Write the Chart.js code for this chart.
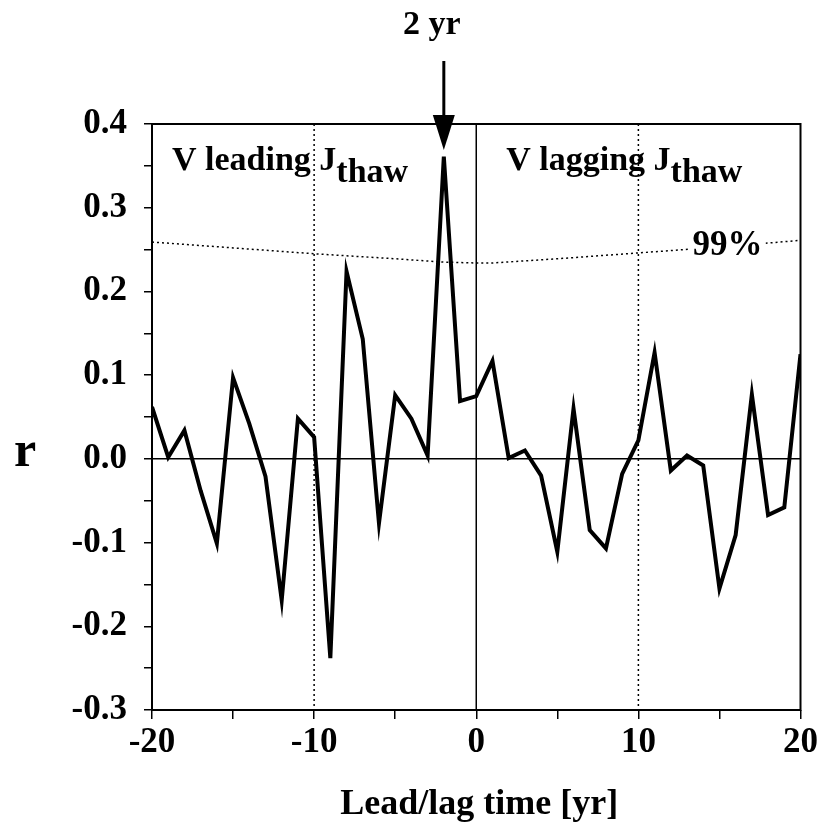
<!DOCTYPE html>
<html>
<head>
<meta charset="utf-8">
<script src="https://cdn.jsdelivr.net/npm/chart.js@4.4.1/dist/chart.umd.min.js"></script>
<style>
  html, body { margin: 0; padding: 0; background: #fff; }
  #wrap { width: 821px; height: 825px; position: relative; }
</style>
</head>
<body>
<div id="wrap"><canvas id="chartLag"></canvas></div>
<script>
// ── Lead/lag correlation of V vs J_thaw ──

// lag [yr] and correlation r
const lags = [-20, -19, -18, -17, -16, -15, -14, -13, -12, -11, -10, -9, -8, -7, -6, -5, -4, -3, -2, -1,
              0, 1, 2, 3, 4, 5, 6, 7, 8, 9, 10, 11, 12, 13, 14, 15, 16, 17, 18, 19, 20];
const corr = [0.062, 0.002, 0.034, -0.038, -0.101, 0.097, 0.042, -0.021, -0.169, 0.048,
              0.026, -0.238, 0.224, 0.143, -0.077, 0.076, 0.048, 0.004, 0.361, 0.069,
              0.075, 0.117, 0.001, 0.010, -0.020, -0.111, 0.060, -0.085, -0.107, -0.018,
              0.022, 0.127, -0.014, 0.004, -0.008, -0.155, -0.091, 0.077, -0.067, -0.058, 0.125];

// 99% significance level
const sigLags = [-20, -15, -10, -5, -2, 0, 1, 5, 10, 15, 20];
const sig99   = [0.259, 0.252, 0.245, 0.239, 0.235, 0.234, 0.234, 0.239, 0.246, 0.253, 0.261];

const xLabelTicks = [-20, -10, 0, 10, 20];
const peakLag = -2;

const SERIF = "'Liberation Serif', 'Times New Roman', serif";

function textWithSub(ctx, main, sub, x, y) {
  ctx.font = 'bold 34px ' + SERIF;
  ctx.fillText(main, x, y);
  const w = ctx.measureText(main).width;
  ctx.fillText(sub, x + w, y + 12);
}

const decor = {
  id: 'decor',
  beforeDatasetsDraw(chart) {
    const { ctx, chartArea: a, scales: { x, y } } = chart;
    ctx.save();
    ctx.strokeStyle = '#000';
    ctx.lineWidth = 1.5;
    // dotted grid at +-10
    ctx.setLineDash([2, 3]);
    [-10, 10].forEach(v => {
      const px = x.getPixelForValue(v);
      ctx.beginPath(); ctx.moveTo(px, a.top); ctx.lineTo(px, a.bottom); ctx.stroke();
    });
    ctx.setLineDash([]);
    // zero lines
    const x0 = x.getPixelForValue(0), y0 = y.getPixelForValue(0);
    ctx.beginPath(); ctx.moveTo(x0, a.top); ctx.lineTo(x0, a.bottom); ctx.stroke();
    ctx.beginPath(); ctx.moveTo(a.left, y0); ctx.lineTo(a.right, y0); ctx.stroke();
    ctx.restore();
  },
  afterDraw(chart) {
    const { ctx, chartArea: a, scales: { x, y } } = chart;
    ctx.save();
    // frame
    ctx.strokeStyle = '#000';
    ctx.lineWidth = 2;
    ctx.strokeRect(a.left, a.top, a.right - a.left, a.bottom - a.top);

    ctx.fillStyle = '#000';
    ctx.textAlign = 'left';
    ctx.textBaseline = 'alphabetic';
    textWithSub(ctx, 'V leading J', 'thaw', a.left + 20, a.top + 46);
    textWithSub(ctx, 'V lagging J', 'thaw', x.getPixelForValue(0) + 30, a.top + 46);

    // 99% label over the dotted line
    ctx.font = 'bold 35px ' + SERIF;
    const lx = x.getPixelForValue(15.5), ly = y.getPixelForValue(0.244);
    const lw = ctx.measureText('99%').width;
    ctx.fillStyle = '#fff';
    ctx.fillRect(lx - lw / 2 - 3, ly - 24, lw + 6, 26);
    ctx.fillStyle = '#000';
    ctx.textAlign = 'center';
    ctx.fillText('99%', lx, ly);

    // arrow to the 2 yr peak
    const px = x.getPixelForValue(peakLag);
    ctx.lineWidth = 3;
    ctx.beginPath(); ctx.moveTo(px, 61); ctx.lineTo(px, a.top - 5); ctx.stroke();
    ctx.beginPath();
    ctx.moveTo(px - 11, a.top - 9);
    ctx.lineTo(px + 11, a.top - 9);
    ctx.lineTo(px, a.top + 26);
    ctx.closePath(); ctx.fill();
    ctx.font = 'bold 34px ' + SERIF;
    ctx.fillText('2 yr', px - 12, 34);

    // axis titles
    ctx.font = 'bold 36px ' + SERIF;
    ctx.fillText('Lead/lag time [yr]', (a.left + a.right) / 2 + 3, 814);
    ctx.font = 'bold 50px ' + SERIF;
    ctx.fillText('r', 25, 466);
    ctx.restore();
  }
};

const ctxLag = document.getElementById('chartLag').getContext('2d');
new Chart(ctxLag, {
  type: 'line',
  data: {
    datasets: [
      {
        label: 'r',
        data: lags.map((l, i) => ({ x: l, y: corr[i] })),
        borderColor: '#000',
        borderWidth: 4,
        borderJoinStyle: 'miter',
        pointRadius: 0,
        tension: 0
      },
      {
        label: '99%',
        data: sigLags.map((l, i) => ({ x: l, y: sig99[i] })),
        borderColor: '#000',
        borderWidth: 1.5,
        borderDash: [2, 3],
        pointRadius: 0,
        tension: 0
      }
    ]
  },
  options: {
    responsive: true,
    maintainAspectRatio: false,
    animation: false,
    devicePixelRatio: 1,
    layout: { padding: { top: 124, right: 19, left: 0, bottom: 0 } },
    plugins: {
      legend: { display: false },
      tooltip: { enabled: false }
    },
    scales: {
      x: {
        type: 'linear',
        min: -20, max: 20,
        afterFit: s => { s.height = 115; },
        border: { display: false },
        grid: { drawOnChartArea: false, color: '#000', lineWidth: 1.5, tickLength: 9 },
        ticks: {
          stepSize: 5,
          autoSkip: false,
          maxRotation: 0,
          padding: 3,
          color: '#000',
          font: { family: SERIF, size: 35, weight: 'bold' },
          callback: v => xLabelTicks.includes(v) ? String(v) : ''
        }
      },
      y: {
        min: -0.3, max: 0.4,
        afterFit: s => { s.width = 152; },
        border: { display: false },
        grid: { drawOnChartArea: false, color: '#000', lineWidth: 1.5, tickLength: 8 },
        ticks: {
          stepSize: 0.05,
          autoSkip: false,
          padding: 17,
          color: '#000',
          font: { family: SERIF, size: 35, weight: 'bold' },
          callback: v => {
            const k = Math.round(v * 100);
            return k % 10 === 0 ? (k / 100).toFixed(1) : '';
          }
        }
      }
    }
  },
  plugins: [decor]
});
</script>
</body>
</html>
